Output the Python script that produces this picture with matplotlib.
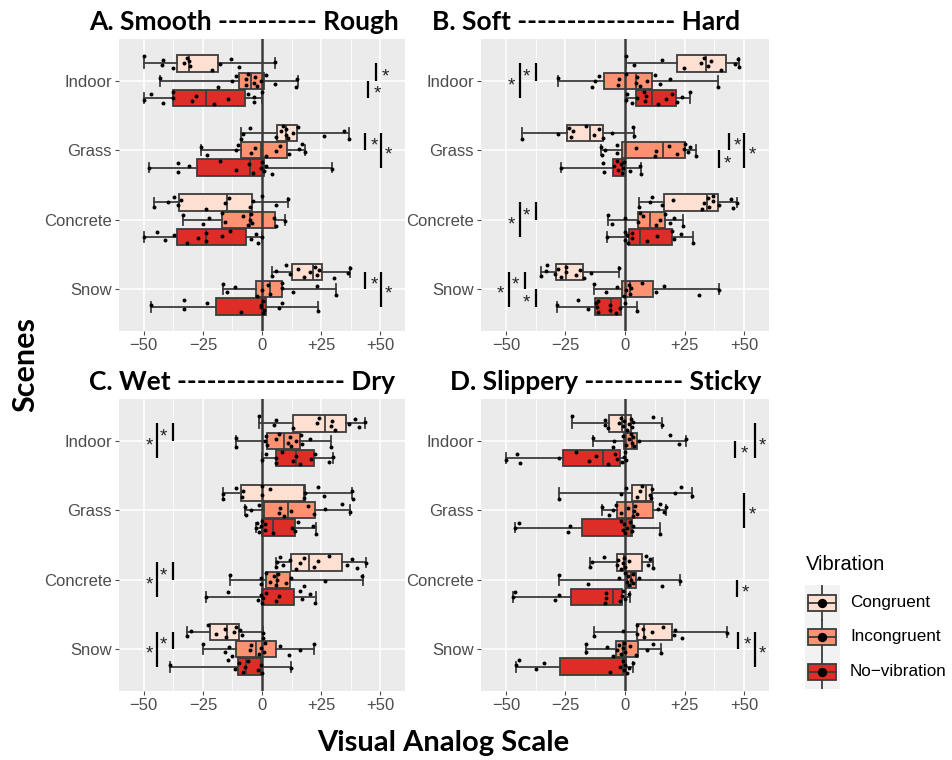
import numpy as np
import matplotlib
matplotlib.use("Agg")
import matplotlib.pyplot as plt
from matplotlib.patches import Rectangle

# ---------------- data ----------------
scenes = ["Indoor", "Grass", "Concrete", "Snow"]
conditions = ["Congruent", "Incongruent", "No\u2212vibration"]
colors = ["#FEE0D2", "#FC9272", "#DE2D26"]
xticks = [-50, -25, 0, 25, 50]
xticklabels = ["\u221250", "\u221225", "0", "+25", "+50"]

titles = ["A. Smooth ---------- Rough", "B. Soft ---------------- Hard",
          "C. Wet ----------------- Dry", "D. Slippery ---------- Sticky"]

# box stats (whislo, q1, median, q3, whishi); order: scene-major, condition-minor
A_stats = [(-50.1, -36.1, -30.9, -18.8, 5.3), (-43.1, -9.8, -4.5, 0.7, 15.2), (-50.1, -37.5, -23.9, -7.2, 0.0),
           (-9.0, 6.3, 10.3, 14.7, 36.9), (-25.6, -8.7, -0.3, 10.5, 18.3), (-48.0, -27.4, -4.9, 0.7, 29.6),
           (-45.9, -35.0, -15.0, -4.1, 11.2), (-33.3, -17.0, -5.2, 5.5, 9.6), (-50.1, -35.8, -23.7, -6.6, 0.0),
           (4.4, 12.8, 21.5, 25.4, 37.2), (-16.7, -2.4, 3.5, 8.6, 31.3), (-47.0, -19.5, 0.1, 1.5, 23.6)]
B_stats = [(0.3, 22.0, 34.0, 42.6, 47.8), (-28.1, -8.7, 4.5, 11.2, 38.9), (0.3, 4.5, 11.2, 21.3, 27.4),
           (-43.1, -24.3, -14.7, -9.4, 3.9), (-10.1, -1.4, 15.9, 25.3, 29.9), (-26.7, -4.9, -1.4, 0.0, 6.6),
           (6.0, 16.4, 34.4, 38.9, 47.0), (-7.0, 5.3, 10.3, 16.6, 24.3), (-7.4, 1.5, 6.3, 19.7, 28.5),
           (-35.1, -29.1, -24.6, -17.6, -2.4), (-12.9, -1.4, 2.1, 11.7, 39.7), (-28.4, -12.4, -6.0, -1.8, 5.2)]
C_stats = [(-1.3, 13.1, 26.8, 35.5, 43.7), (-10.8, 2.1, 9.1, 16.2, 29.2), (0.0, 6.0, 14.2, 21.8, 30.2),
           (-16.7, -8.7, 17.7, 18.0, 38.1), (-7.3, 0.7, 11.2, 22.5, 37.2), (-2.4, 0.0, 4.6, 13.8, 22.9),
           (6.0, 12.4, 19.8, 33.8, 44.0), (-13.6, 1.8, 6.3, 11.7, 42.6), (-23.7, 0.0, 0.1, 13.5, 22.9),
           (-31.6, -21.8, -15.0, -9.7, 0.4), (-25.1, -10.8, -2.4, 6.0, 21.8), (-38.9, -10.0, -6.6, -0.3, 12.1)]
D_stats = [(-22.2, -6.6, -1.4, 2.4, 15.4), (-13.3, -0.4, 2.8, 5.2, 25.7), (-50.1, -26.0, -9.4, -2.1, 0.0),
           (-27.7, 2.8, 8.8, 11.2, 28.1), (-9.8, -3.2, 3.5, 11.7, 17.1), (-46.3, -17.9, 2.5, 2.8, 14.9),
           (-14.7, -3.2, -0.4, 7.3, 11.7), (-27.7, 0.7, 2.4, 4.5, 22.9), (-47.0, -22.8, -5.2, -1.4, 2.1),
           (-13.1, 5.2, 8.0, 19.7, 42.8), (-16.4, -3.9, -1.0, 5.6, 15.2), (-45.6, -27.4, -1.0, 0.4, 3.5)]

# individual responses per box (same order)
A_points = [
    [-50, -42.4, -41.7, -37.5, -33, -31.6, -30.5, -30.8, -21, -17.8, -13.2, -9.8, 5.3],
    [-43.1, -18.5, -12.9, -11.1, -6.9, -6.6, -5.9, -3.5, -2.8, -2.1, -0.3, 1.8, 5.6, 14.9, 14.5],
    [-50, -46.9, -41.7, -37.5, -37.5, -29.8, -27.9, -20.4, -14.3, -6, -3.5, -3.4, 0],
    [-9, -8, -5.2, 5.8, 8, 8.8, 10, 10.3, 11.2, 13, 15.2, 26.1, 34.8, 36.9],
    [-25.6, -23.2, -11.1, -10.1, -4.5, -2.8, 1.8, 6, 7.7, 11.4, 15.6, 17, 18],
    [-48, -35.7, -35.4, -30.8, -17.6, -10.8, -5.5, -3.8, -0.3, 0.1, 1, 1.8, 4.4, 29.6],
    [-45.9, -39.6, -37.2, -35.4, -34.3, -23.9, -15.7, -13.9, -5.2, -3.8, 0.1, 5.8, 11.2],
    [-33.3, -25.1, -22.3, -17.1, -15.7, -8, -5.9, -4.9, -4.5, -4.1, 5.2, 6, 9.6],
    [-50.1, -44.5, -41, -37.2, -31.9, -27, -23.7, -23.5, -17, -13.6, -4.5, -2.4, -1.8, 0],
    [4.4, 5.8, 10, 11.7, 15.3, 17.6, 20.1, 22.6, 23.2, 24.3, 30.3, 36.4, 37.2],
    [-16.7, -14.7, -11.4, -2, 0.1, 2.5, 3.5, 8.6, 8.6, 13.3, 23.2, 31.3],
    [-47, -33, -33, -23.2, -9, -0.3, 0.4, 0.7, -0.3, 0.4, 7.4, 8.6, 23.6]]
B_points = [
    [0.3, 3.8, 15.4, 24.6, 31.9, 33, 34.7, 36.1, 40.4, 46.3, 47.3, 47.8],
    [-28.1, -14, -12.6, -10.8, -2.8, -2.4, 0.3, 4.6, 4.9, 6.3, 9.4, 12.6, 14.5, 19, 38.9],
    [0.3, 0.7, 3.1, 4.9, 8, 8.4, 8.8, 14, 17.3, 19.7, 22, 23.9, 27.4],
    [-43.1, -28.1, -23.6, -22.8, -21.8, -16.4, -13.1, -10.8, -9.4, -5.6, 3.5, 3.9],
    [-10.1, -9.8, -8.4, -3.5, -3.5, 4.6, 12.6, 13.1, 18.5, 21.8, 24.9, 25.3, 26.3, 27.4, 29.9],
    [-26.7, -9.4, -8.8, -4.6, -3.5, -2.8, -1.8, -1.4, -1, -0.4, 2.1, 6.3, 6.6],
    [6, 10.5, 11.2, 15.4, 20, 32.3, 33.3, 34.7, 35.5, 36.9, 36.9, 39.7, 44.7, 45.4, 47],
    [-7, -5.6, 0, 6.2, 5.6, 7.7, 12.9, 14.5, 16.6, 19, 20.6, 24.3],
    [-7.4, 0, 0, 1, 1.4, 2.8, 3.1, 9.4, 13.3, 19.7, 20.4, 23.6, 28.5],
    [-35.4, -33.3, -32.7, -29.5, -28.1, -26.7, -24.6, -24.6, -20.6, -18.9, -17.3, -14.3, -2.4],
    [-12.9, -8, -3.5, -0.4, 0.4, 1.8, 2.1, 2.5, 7, 13.1, 16.2, 31.3, 39.7],
    [-28.4, -19.7, -15.7, -12.2, -11.5, -11.7, -11.2, -6.3, -6.3, -3.8, -2.1, 0, 4.9]]
C_points = [
    [-1.3, 4.9, 6, 13.3, 23.2, 24, 29.2, 29.6, 31, 36.9, 39.5, 41.2, 43.7],
    [-10.8, -10.8, 1.1, 1.8, 2.1, 5.8, 7.4, 11, 11.7, 12.4, 14.2, 16.6, 17, 20.1, 29.2],
    [-0.1, 1.8, 6, 6, 8.6, 13.3, 14.5, 15.9, 20.8, 22.6, 28.5, 30.2],
    [-16.7, -16.4, -10.8, -8.4, -8.1, 0.1, 0.1, 3.3, 17.6, 18, 23.6, 26.4, 38.1, 38.3],
    [-7.3, -6.6, -4.5, -1.4, 7, 7.7, 9.1, 12.4, 19.4, 21.8, 26.8, 33.8, 37.2],
    [-2.4, -2.1, -1.3, -0.3, 0.1, 1.1, 1.1, 4.6, 12.8, 15.2, 13.8, 21.5, 22.9],
    [5.8, 6.3, 7.7, 8.8, 11.7, 14.2, 15.9, 17.6, 21.8, 23.6, 28.2, 35.8, 37.9, 40, 44],
    [-13.6, -0.6, -0.3, 1.8, 3.2, 4.9, 5.8, 6.3, 6.7, 10, 12.4, 17.6, 26.8, 42.3],
    [-23.7, -14.3, -1.7, -0.3, 0.1, 0.4, 1.5, 6, 7.2, 15.9, 17, 20.5, 22.6],
    [-31.9, -30.2, -22.8, -19.5, -15.7, -15.3, -11.9, -11.1, -8.3, -9.1, 0.4, 0.4],
    [-25.1, -15.7, -13.9, -12.5, -5.2, -4.5, -1.3, -0.3, 1.1, 0.8, 7.7, 11.4, 15.9, 21.8],
    [-38.9, -14.3, -11.4, -9.7, -8, -7.3, -5.9, -1.7, -0.3, 0.1, 12.1]]
D_points = [
    [-22.2, -8.4, -8.4, -7, -2.4, -1.7, -0.7, -0.4, 0.7, 1.7, 2.4, 2.8, 3.5, 11.7, 15.4],
    [-13.3, -5.2, -4.6, -0.7, 0.4, 1.8, 2.5, 2.8, 3.5, 3.9, 6, 19, 22.5, 25.7],
    [-50.1, -45.4, -44.2, -27.7, -20.6, -15, -12.2, -7, -3.5, -4.1, -1.4, -0.4, 0, 0.4],
    [-27.7, -1.7, 0.4, 4.9, 6.3, 7, 10.5, 11.2, 10.8, 21.1, 23.5, 28.1],
    [-9.8, -6.6, -5.2, -3.8, -1.8, 1.4, 3.2, 3.8, 4.2, 4.9, 14, 14.5, 16.4, 17.1],
    [-46.3, -44.5, -23.9, -23.2, -1.7, -1, -0.4, 0, 1, 2.1, 2.8, 3.5, 14.9],
    [-14.7, -14, -8.7, -3.5, -2.8, -1.8, -0.7, -0.4, 0, 1.8, 8.8, 9.8, 10.5, 11.7],
    [-27.7, -15.7, -2.4, 0, 0.7, 1.4, 1.8, 2.4, 3.2, 3.5, 6, 15.4, 22.9],
    [-47, -46.1, -29.5, -27.7, -8.4, -8.1, -8, -2.1, -1.4, -0.7, 0, 1.8],
    [-13.1, -0.7, 4.9, 5.2, 7.4, 8, 11.2, 15.8, 20.6, 20.8, 23.9, 42.8],
    [-16.4, -16.2, -7.4, -4.9, -3.5, -2.4, -1.8, -1, -0.4, 0, 2.1, 4.6, 9.1, 11.9, 15.2],
    [-45.6, -44.5, -37.5, -34.1, -6.3, -2.1, -1, -0.4, 0, 0.7, 1.8, 3.5]]

# significance brackets: (scene index, condition from, condition to, bracket x, star x)
A_sig = [(0, 0, 1, 48.2, 52.4), (0, 1, 2, 44.8, 48.6),
         (1, 0, 1, 43.5, 47.5), (1, 0, 2, 50.3, 53.5),
         (3, 0, 1, 43.5, 47.5), (3, 0, 2, 50.3, 53.5)]
B_sig = [(0, 0, 2, -44.2, -47.7), (0, 0, 1, -37.6, -41.4),
         (1, 0, 1, 43.6, 47.1), (1, 1, 2, 39.4, 42.9), (1, 0, 2, 50.2, 53.4),
         (2, 0, 2, -44.2, -47.7), (2, 0, 1, -37.6, -41.4),
         (3, 0, 2, -48.7, -52.2), (3, 0, 1, -42.0, -45.9), (3, 1, 2, -37.5, -41.4)]
C_sig = [(0, 0, 2, -44.5, -47.7), (0, 0, 1, -37.7, -41.7),
         (2, 0, 2, -44.5, -47.7), (2, 0, 1, -37.7, -41.7),
         (3, 0, 2, -44.5, -47.7), (3, 0, 1, -37.7, -41.7)]
D_sig = [(0, 1, 2, 46.3, 50.1), (0, 0, 2, 54.6, 57.9),
         (1, 0, 2, 50.1, 53.4),
         (2, 1, 2, 47.0, 50.6),
         (3, 0, 1, 47.4, 51.2), (3, 0, 2, 54.6, 57.9)]

# ---------------- figure ----------------
W, H = 953, 760
fig = plt.figure(figsize=(W / 100, H / 100), dpi=100)

def fbox(x0, y0, x1, y1):
    return [x0 / W, 1 - y1 / H, (x1 - x0) / W, (y1 - y0) / H]

panel_px = [(119, 39, 405, 331), (481, 39, 769, 331), (119, 399, 405, 691), (481, 399, 769, 691)]
title_px = [(89, 22), (432, 22), (89, 382), (450, 382)]
panels = [(A_stats, A_points, A_sig), (B_stats, B_points, B_sig),
          (C_stats, C_points, C_sig), (D_stats, D_points, D_sig)]

dodge = [-0.25, 0.0, 0.25]
edge = "#3C3C3C"
tick_col = "#4D4D4D"

for p, (stats, pts, sig) in enumerate(panels):
    ax = fig.add_axes(fbox(*panel_px[p]))
    ax.set_facecolor("#EBEBEB")
    for s in ax.spines.values():
        s.set_visible(False)

    bstats, pos, cols = [], [], []
    for si in range(4):
        for ci in range(3):
            w = stats[si * 3 + ci]
            bstats.append(dict(whislo=w[0], q1=w[1], med=w[2], q3=w[3], whishi=w[4], fliers=[]))
            pos.append(si + 1 + dodge[ci])
            cols.append(colors[ci])
    bp = ax.bxp(bstats, positions=pos, widths=0.235, orientation="horizontal",
                patch_artist=True, showfliers=False, capwidths=0.14, manage_ticks=False,
                boxprops=dict(edgecolor=edge, linewidth=1.3),
                medianprops=dict(color=edge, linewidth=1.3),
                whiskerprops=dict(color=edge, linewidth=1.3),
                capprops=dict(color=edge, linewidth=1.3), zorder=2)
    for patch, c in zip(bp["boxes"], cols):
        patch.set_facecolor(c)

    ax.set_xlim(-60.5, 60.5)
    ax.set_ylim(4.6, 0.4)
    ax.set_xticks(xticks)
    ax.set_xticklabels(xticklabels)
    ax.set_xticks([-37.5, -12.5, 12.5, 37.5], minor=True)
    ax.set_yticks([1, 2, 3, 4])
    ax.set_yticklabels(scenes)
    ax.set_yticks([], minor=True)
    ax.grid(which="major", color="white", linewidth=1.1, zorder=0)
    ax.grid(which="minor", axis="x", color="white", linewidth=0.55, zorder=0)
    ax.set_axisbelow(True)
    ax.tick_params(which="major", length=3, color=tick_col, labelcolor=tick_col,
                   labelsize=12, pad=2)
    ax.tick_params(which="minor", length=0)
    for lab in ax.get_xticklabels() + ax.get_yticklabels():
        lab.set_family("Liberation Sans")

    ax.axvline(0, color="#3A3A3A", linewidth=1.8, zorder=3)

    for k, vals in enumerate(pts):
        n = len(vals)
        jit = 0.2 * (((np.arange(n) * 0.618 + 0.31 * k) % 1.0) - 0.5)
        ax.scatter(vals, pos[k] + jit, s=8, color="black", zorder=4, linewidths=0)

    for si, c0, c1, xl, xs in sig:
        y0 = si + 1 + dodge[c0]
        y1 = si + 1 + dodge[c1]
        ax.plot([xl, xl], [y0, y1], color="black", linewidth=1.6, solid_capstyle="butt", zorder=5)
        ax.text(xs, (y0 + y1) / 2 + 0.07, "*", ha="center", va="center", fontsize=13.5,
                color="#222222", family="Liberation Sans", zorder=5)

    tx, ty = title_px[p]
    fig.text(tx / W, 1 - ty / H, titles[p], ha="left", va="center", fontsize=19,
             fontweight="bold", family="Lato")

fig.text(25 / W, 1 - 365 / H, "Scenes", rotation=90, ha="center", va="center",
         fontsize=22, fontweight="bold", family="Lato")
fig.text(443 / W, 1 - 743 / H, "Visual Analog Scale", ha="center", va="center",
         fontsize=21, fontweight="bold", family="Lato")

# legend
fig.text(806 / W, 1 - 565 / H, "Vibration", ha="left", va="center", fontsize=14.5,
         family="Liberation Sans")
lax = fig.add_axes(fbox(805, 585, 840, 689))
lax.set_xlim(805, 840)
lax.set_ylim(689, 585)
lax.set_facecolor("#F2F2F2")
lax.set_xticks([])
lax.set_yticks([])
for s in lax.spines.values():
    s.set_visible(False)
for i, (c, lab) in enumerate(zip(colors, conditions)):
    cy = 602.5 + i * 34.5
    lax.plot([822.5, 822.5], [cy - 17, cy + 17], color=edge, linewidth=1.3, zorder=1)
    lax.add_patch(Rectangle((808.5, cy - 8), 28, 16, facecolor=c, edgecolor=edge,
                            linewidth=1.3, zorder=2))
    lax.plot([808.5, 836.5], [cy, cy], color=edge, linewidth=1.3, zorder=3)
    lax.scatter([822.5], [cy], s=45, color="black", zorder=4, linewidths=0)
    fig.text(850 / W, 1 - cy / H, lab, ha="left", va="center", fontsize=12.3,
             family="Liberation Sans")

fig.savefig("out.png", dpi=100)
